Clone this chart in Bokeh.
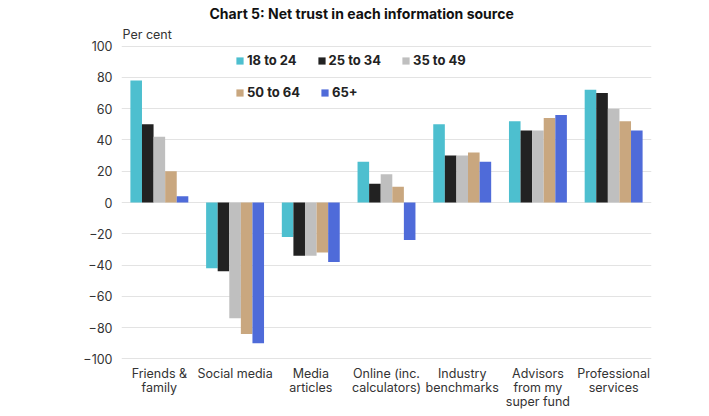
from bokeh.plotting import figure
from bokeh.models import (ColumnDataSource, FactorRange, Range1d, Legend, LegendItem,
                          Title, FixedTicker)
from bokeh.transform import dodge
from bokeh.embed import file_html
from bokeh.resources import INLINE

# ---------------- data ----------------
categories = ["Friends &\nfamily", "Social media", "Media\narticles", "Online (inc.\ncalculators)",
              "Industry\nbenchmarks", "Advisors\nfrom my\nsuper fund", "Professional\nservices"]
groups = ["18 to 24", "25 to 34", "35 to 49", "50 to 64", "65+"]
v_18_24 = [78, -42, -22, 26, 50, 52, 72]
v_25_34 = [50, -44, -34, 12, 30, 46, 70]
v_35_49 = [42, -74, -34, 18, 30, 46, 60]
v_50_64 = [20, -84, -32, 10, 32, 54, 52]
v_65 = [4, -90, -38, -24, 26, 56, 46]
colors = ["#4dbfcf", "#222222", "#bfbfbf", "#c9a77f", "#4f6bd9"]
y_ticks = [-100, -80, -60, -40, -20, 0, 20, 40, 60, 80, 100]
title_text = "Chart 5: Net trust in each information source"
unit_text = "Per cent"

series = [v_18_24, v_25_34, v_35_49, v_50_64, v_65]
data = {"cat": categories}
for i, s in enumerate(series):
    data["g%d" % i] = s
src = ColumnDataSource(data)

FONT = "Inter"
TXT = "#333333"

p = figure(x_range=FactorRange(*categories, range_padding=0), y_range=Range1d(-101, 101),
           width=705, height=414, output_backend="svg", toolbar_location=None,
           min_border_left=121, min_border_right=54, min_border_top=44, min_border_bottom=54,
           outline_line_color=None)

bar_w = 0.153
offsets = [-2 * bar_w, -bar_w, 0, bar_w, 2 * bar_w]
renderers = []
for i, g in enumerate(groups):
    r = p.vbar(x=dodge("cat", offsets[i], range=p.x_range), top="g%d" % i, bottom=0,
               width=bar_w, source=src, fill_color=colors[i], line_color=None)
    renderers.append(r)

# axes
p.yaxis.ticker = FixedTicker(ticks=y_ticks)
for ax in (p.xaxis[0], p.yaxis[0]):
    ax.axis_line_color = None
    ax.major_tick_line_color = None
    ax.minor_tick_line_color = None
    ax.major_tick_out = 0
    ax.major_tick_in = 0
    ax.major_label_text_font = FONT
    ax.major_label_text_color = TXT
    ax.major_label_text_font_size = "12.5px"
p.xaxis.major_label_text_line_height = 0.95
p.yaxis.major_label_standoff = 9
p.xaxis.major_label_standoff = 5
p.xgrid.grid_line_color = None
p.ygrid.grid_line_color = "#e3e3e3"
p.ygrid.grid_line_width = 1

# legends (two rows)
def make_legend(idx, loc):
    lg = Legend(items=[LegendItem(label=groups[i], renderers=[renderers[i]]) for i in idx],
                orientation="horizontal", location=loc,
                label_text_font=FONT, label_text_font_style="bold",
                label_text_font_size="13px", label_text_color="#222222",
                glyph_width=9, glyph_height=9, label_standoff=3, spacing=20,
                label_height=16, padding=0, margin=0,
                border_line_color=None, background_fill_alpha=0)
    p.add_layout(lg)

make_legend([0, 1, 2], (114, 292))
make_legend([3, 4], (114, 260))

# unit label (nearest the frame) and chart title
p.add_layout(Title(text=unit_text, align="left", offset=1, standoff=5,
                   text_font=FONT, text_font_size="12.5px", text_font_style="normal",
                   text_color=TXT), "above")
p.add_layout(Title(text=title_text, align="left", offset=88, standoff=2,
                   text_font=FONT, text_font_size="14px", text_font_style="bold",
                   text_color="#111111"), "above")

open("out.html", "w").write(file_html(p, INLINE))
